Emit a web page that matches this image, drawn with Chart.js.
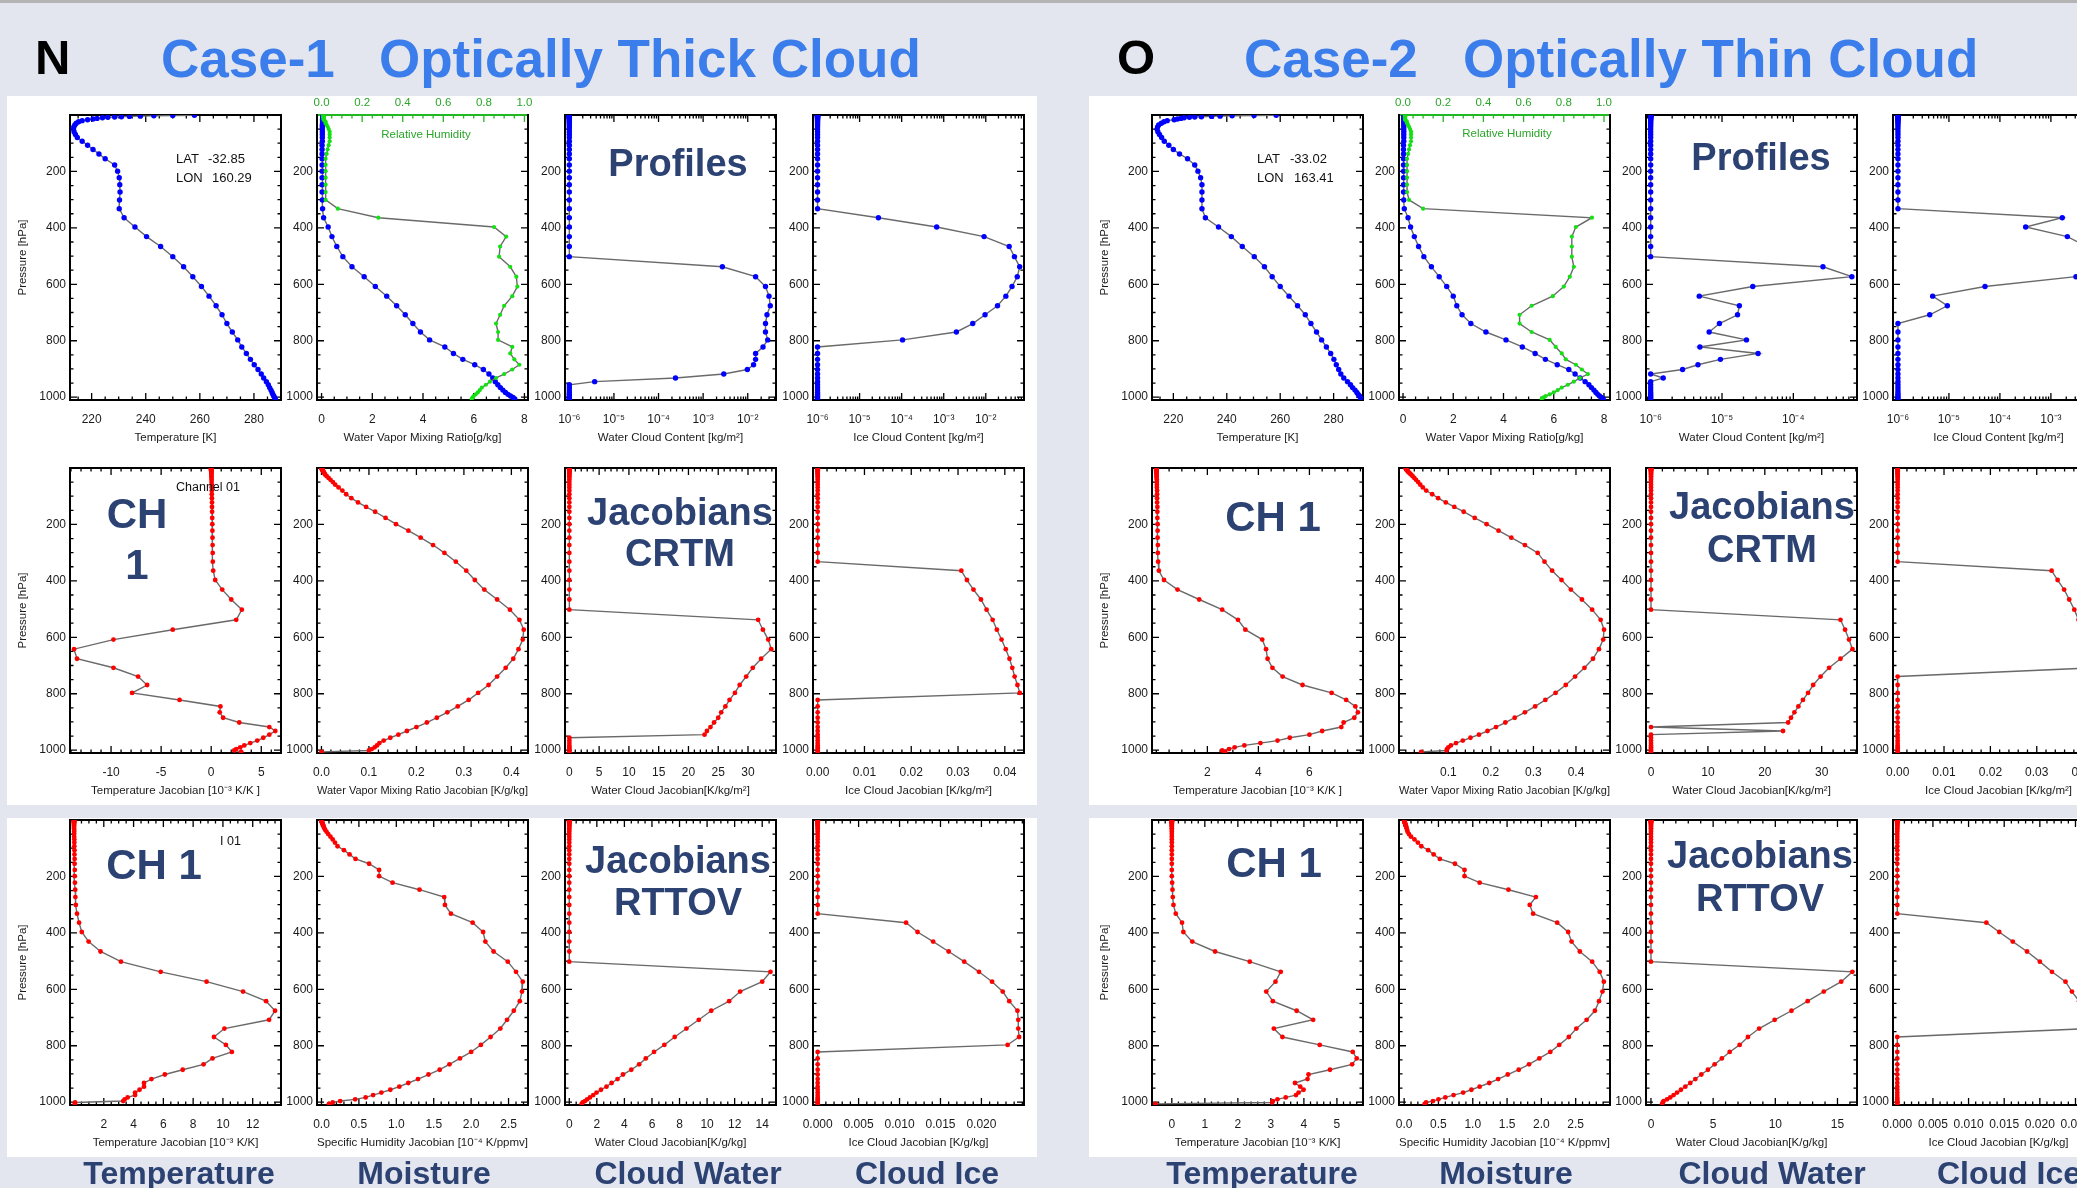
<!DOCTYPE html>
<html>
<head>
<meta charset="utf-8">
<title>Case-1 / Case-2 cloud profiles and Jacobians</title>
<script src="https://cdn.jsdelivr.net/npm/chart.js@4.4.1/dist/chart.umd.min.js"></script>
<style>
  html, body { margin: 0; padding: 0; }
  body { position: relative; width: 2077px; height: 1188px; overflow: hidden; background: #e3e6ef;
         font-family: "Liberation Sans", Arial, Helvetica, sans-serif; }
  .bar { position: absolute; left: 0; top: 0; width: 2077px; height: 3px; background: #b4b4b4; }
  .panel { position: absolute; background: #fff; }
  canvas { position: absolute; }
  .txt { position: absolute; line-height: 1; white-space: pre; }
  .head { font-weight: bold; color: #3a7deb; font-size: 53px; }
  .letter { font-weight: bold; color: #000; font-size: 49px; }
  .big { font-weight: bold; color: #2c4272; transform: translate(-50%, -50%); }
  .foot { font-weight: bold; color: #2c4272; font-size: 32px; transform: translateX(-50%); top: 1157px; }
  .small { font-size: 13px; color: #111; }
  .rh { font-size: 11.5px; color: #2aa62a; transform: translateX(-50%); }
</style>
</head>
<body>
<div class="bar"></div>
<div class="panel" style="left:7px;top:96px;width:1030px;height:709px"></div>
<div class="panel" style="left:7px;top:818px;width:1030px;height:339px"></div>
<div class="panel" style="left:1089px;top:96px;width:988px;height:709px"></div>
<div class="panel" style="left:1089px;top:818px;width:988px;height:339px"></div>
<div id="plots"></div>

<div class="txt letter" style="left:35px;top:33px">N</div>
<div class="txt head" style="left:161px;top:32px">Case-1</div>
<div class="txt head" style="left:379px;top:32px">Optically Thick Cloud</div>
<div class="txt letter" style="left:1117px;top:33px">O</div>
<div class="txt head" style="left:1244px;top:32px">Case-2</div>
<div class="txt head" style="left:1463px;top:32px">Optically Thin Cloud</div>

<div class="txt small" style="left:176px;top:152px">LAT</div>
<div class="txt small" style="left:208px;top:152px">-32.85</div>
<div class="txt small" style="left:176px;top:171px">LON</div>
<div class="txt small" style="left:212px;top:171px">160.29</div>
<div class="txt small" style="left:1257px;top:152px">LAT</div>
<div class="txt small" style="left:1290px;top:152px">-33.02</div>
<div class="txt small" style="left:1257px;top:171px">LON</div>
<div class="txt small" style="left:1294px;top:171px">163.41</div>
<div class="txt small" style="left:176px;top:481px;font-size:12.5px">Channel 01</div>
<div class="txt small" style="left:220px;top:835px;font-size:12.5px">I 01</div>
<div class="txt rh" style="left:426px;top:129px">Relative Humidity</div>
<div class="txt rh" style="left:1507px;top:128px">Relative Humidity</div>

<div class="txt big" style="left:678px;top:163px;font-size:38px">Profiles</div>
<div class="txt big" style="left:137px;top:514px;font-size:42px">CH</div>
<div class="txt big" style="left:137px;top:565px;font-size:42px">1</div>
<div class="txt big" style="left:680px;top:512px;font-size:38px">Jacobians</div>
<div class="txt big" style="left:680px;top:553px;font-size:38px">CRTM</div>
<div class="txt big" style="left:154px;top:865px;font-size:42px">CH 1</div>
<div class="txt big" style="left:678px;top:860px;font-size:38px">Jacobians</div>
<div class="txt big" style="left:678px;top:902px;font-size:38px">RTTOV</div>
<div class="txt big" style="left:1761px;top:157px;font-size:38px">Profiles</div>
<div class="txt big" style="left:1273px;top:517px;font-size:42px">CH 1</div>
<div class="txt big" style="left:1762px;top:506px;font-size:38px">Jacobians</div>
<div class="txt big" style="left:1762px;top:549px;font-size:38px">CRTM</div>
<div class="txt big" style="left:1274px;top:863px;font-size:42px">CH 1</div>
<div class="txt big" style="left:1760px;top:855px;font-size:38px">Jacobians</div>
<div class="txt big" style="left:1760px;top:898px;font-size:38px">RTTOV</div>

<div class="txt foot" style="left:179px">Temperature</div>
<div class="txt foot" style="left:424px">Moisture</div>
<div class="txt foot" style="left:688px">Cloud Water</div>
<div class="txt foot" style="left:927px">Cloud Ice</div>
<div class="txt foot" style="left:1262px">Temperature</div>
<div class="txt foot" style="left:1506px">Moisture</div>
<div class="txt foot" style="left:1772px">Cloud Water</div>
<div class="txt foot" style="left:2009px">Cloud Ice</div>

<script>
// pressure levels [hPa], shared by every profile
const P = [
  1, 2, 3, 4, 5, 6, 7, 8, 10, 12,
  14, 17, 20, 24, 29, 35, 42, 50, 59, 69,
  80, 93, 107, 122, 138, 155, 177, 199, 222, 247,
  273, 301, 332, 364, 397, 431, 466, 502, 538, 573,
  608, 642, 676, 708, 739, 769, 797, 822, 845, 866,
  885, 902, 918, 932, 945, 956, 966, 975, 983, 990,
  996, 1001, 1006];

// ---- Case-1 (optically thick) profiles ----
const tempK1 = [
  258, 250, 243, 238, 234, 231, 228.5, 226, 224, 222,
  220.5, 218.5, 216.5, 215.2, 214.3, 213.8, 213.4, 213.3, 213.5, 214,
  214.7, 216.5, 218.5, 220.5, 222.7, 225, 228.5, 229.6, 230.2, 230.4,
  230.5, 230.3, 230.2, 232, 236, 240.3, 245.5, 250, 254, 257.4,
  260.6, 263.4, 266, 268.2, 270, 272, 274, 275.5, 277.2, 278.7,
  280.1, 281.5, 282.7, 283.6, 284.6, 285.3, 285.8, 286.3, 286.7, 287,
  287.3, 287.6, 287.9];
const wvmr1 = [
  0.06, 0.06, 0.06, 0.06, 0.05, 0.05, 0.05, 0.05, 0.05, 0.05,
  0.04, 0.04, 0.04, 0.04, 0.04, 0.03, 0.03, 0.03, 0.03, 0.03,
  0.03, 0.03, 0.02, 0.02, 0.02, 0.02, 0.02, 0.02, 0.02, 0.02,
  0.02, 0.03, 0.04, 0.08, 0.26, 0.41, 0.6, 0.84, 1.2, 1.68,
  2.12, 2.57, 2.96, 3.3, 3.6, 3.9, 4.26, 4.86, 5.2, 5.57,
  6.04, 6.38, 6.6, 6.75, 6.85, 6.95, 7.05, 7.15, 7.25, 7.35,
  7.45, 7.55, 7.62];
const rh1 = [
  0.01, 0.01, 0.01, 0.01, 0.01, 0.01, 0.01, 0.01, 0.01, 0.01,
  0.01, 0.01, 0.015, 0.02, 0.02, 0.025, 0.03, 0.035, 0.04, 0.04,
  0.04, 0.04, 0.035, 0.03, 0.025, 0.02, 0.02, 0.02, 0.02, 0.02,
  0.02, 0.02, 0.08, 0.28, 0.85, 0.91, 0.88, 0.875, 0.93, 0.96,
  0.965, 0.94, 0.9, 0.88, 0.86, 0.87, 0.87, 0.94, 0.93, 0.95,
  0.975, 0.94, 0.9, 0.86, 0.83, 0.81, 0.79, 0.78, 0.77, 0.76,
  0.75, 0.745, 0.74];
const cldWater1 = [
  1e-6, 1e-6, 1e-6, 1e-6, 1e-6, 1e-6, 1e-6, 1e-6, 1e-6, 1e-6,
  1e-6, 1e-6, 1e-6, 1e-6, 1e-6, 1e-6, 1e-6, 1e-6, 1e-6, 1e-6,
  1e-6, 1e-6, 1e-6, 1e-6, 1e-6, 1e-6, 1e-6, 1e-6, 1e-6, 1e-6,
  1e-6, 1e-6, 1e-6, 1e-6, 1e-6, 1e-6, 1e-6, 1e-6, 2.7e-3, 1.5e-2,
  2.5e-2, 3.0e-2, 3.2e-2, 2.7e-2, 2.5e-2, 2.5e-2, 2.8e-2, 2.2e-2, 1.5e-2, 1.5e-2,
  1.35e-2, 9.8e-3, 2.9e-3, 2.4e-4, 3.7e-6, 1e-6, 1e-6, 1e-6, 1e-6, 1e-6,
  1e-6, 1e-6, 1e-6];
const cldIce1 = [
  1e-6, 1e-6, 1e-6, 1e-6, 1e-6, 1e-6, 1e-6, 1e-6, 1e-6, 1e-6,
  1e-6, 1e-6, 1e-6, 1e-6, 1e-6, 1e-6, 1e-6, 1e-6, 1e-6, 1e-6,
  1e-6, 1e-6, 1e-6, 1e-6, 1e-6, 1e-6, 1e-6, 1e-6, 1e-6, 1e-6,
  1e-6, 1e-6, 1e-6, 2.8e-5, 6.8e-4, 9.1e-3, 0.036, 0.048, 0.064, 0.056,
  0.042, 0.030, 0.019, 9.6e-3, 4.9e-3, 2.0e-3, 1.05e-4, 1e-6, 1e-6, 1e-6,
  1e-6, 1e-6, 1e-6, 1e-6, 1e-6, 1e-6, 1e-6, 1e-6, 1e-6, 1e-6,
  1e-6, 1e-6, 1e-6];

// ---- Case-1 CRTM jacobians ----
const jacT_crtm1 = [
  0, 0, 0, 0, 0, 0, 0, 0, 0, 0.01,
  0.01, 0.01, 0.02, 0.02, 0.03, 0.03, 0.04, 0.04, 0.05, 0.05,
  0.06, 0.06, 0.07, 0.08, 0.08, 0.09, 0.1, 0.11, 0.12, 0.13,
  0.14, 0.15, 0.16, 0.2, 0.4, 1.1, 2.0, 3.06, 2.5, -3.84,
  -9.76, -13.7, -13.4, -9.76, -7.3, -6.4, -7.9, -3.16, 0.92, 0.85,
  1.19, 2.8, 5.8, 6.4, 5.8, 5.2, 4.6, 3.9, 3.3, 2.9,
  2.5, 2.3, 3.0];
const jacWV_crtm1 = [
  0, 0.0003, 0.0006, 0.001, 0.0013, 0.0017, 0.002, 0.0024, 0.003, 0.0038,
  0.0045, 0.0055, 0.0066, 0.008, 0.011, 0.015, 0.019, 0.024, 0.029, 0.036,
  0.044, 0.052, 0.063, 0.077, 0.094, 0.113, 0.135, 0.157, 0.183, 0.209,
  0.235, 0.259, 0.283, 0.305, 0.323, 0.343, 0.37, 0.397, 0.417, 0.426,
  0.424, 0.415, 0.404, 0.388, 0.37, 0.352, 0.33, 0.31, 0.287, 0.265,
  0.243, 0.222, 0.2, 0.18, 0.162, 0.145, 0.131, 0.122, 0.117, 0.112,
  0.106, 0.1, 0.0];
const jacCW_crtm1 = [
  0, 0, 0, 0, 0, 0, 0, 0, 0, 0,
  0, 0, 0, 0, 0, 0, 0, 0, 0, 0,
  0, 0, 0, 0, 0, 0, 0, 0, 0, 0,
  0, 0, 0, 0, 0, 0, 0, 0, 31.7, 32.5,
  33.4, 33.9, 32.2, 30.8, 29.7, 28.6, 27.8, 26.9, 26.2, 25.5,
  25.0, 24.3, 23.7, 23.1, 22.7, 0, 0, 0, 0, 0,
  0, 0, 0];
const jacCI_crtm1 = [
  0, 0, 0, 0, 0, 0, 0, 0, 0, 0,
  0, 0, 0, 0, 0, 0, 0, 0, 0, 0,
  0, 0, 0, 0, 0, 0, 0, 0, 0, 0,
  0, 0, 0, 0.0307, 0.0319, 0.0333, 0.0349, 0.0361, 0.0374, 0.0383,
  0.0393, 0.0402, 0.041, 0.0416, 0.0421, 0.0427, 0.0432, 0, 0, 0,
  0, 0, 0, 0, 0, 0, 0, 0, 0, 0,
  0, 0, 0];

// ---- Case-1 RTTOV jacobians ----
const jacT_rttov1 = [
  0, 0, 0, 0, 0, 0, 0, 0, 0, 0,
  0, 0, 0, 0, 0, 0.01, 0.01, 0.01, 0.01, 0.02,
  0.02, 0.02, 0.03, 0.03, 0.04, 0.04, 0.05, 0.05, 0.06, 0.08,
  0.09, 0.12, 0.2, 0.34, 0.52, 0.98, 1.78, 3.15, 5.82, 8.9,
  11.35, 12.9, 13.5, 13.1, 10.1, 9.4, 10.2, 10.6, 9.3, 8.7,
  7.3, 6.1, 5.2, 4.7, 4.7, 4.4, 4.1, 4.1, 3.6, 3.4,
  3.3, 0.07, 0.05];
const jacQ_rttov1 = [
  0, 0.0005, 0.001, 0.002, 0.003, 0.004, 0.005, 0.007, 0.009, 0.012,
  0.016, 0.02, 0.025, 0.03, 0.038, 0.05, 0.068, 0.09, 0.12, 0.15,
  0.18, 0.214, 0.3, 0.375, 0.455, 0.636, 0.77, 0.77, 0.95, 1.31,
  1.64, 1.65, 1.73, 2.02, 2.16, 2.19, 2.3, 2.49, 2.6, 2.69,
  2.68, 2.65, 2.57, 2.48, 2.39, 2.26, 2.13, 2.0, 1.85, 1.71,
  1.58, 1.43, 1.29, 1.16, 1.04, 0.92, 0.8, 0.69, 0.59, 0.45,
  0.25, 0.15, 0.1];
const jacCW_rttov1 = [
  0, 0, 0, 0, 0, 0, 0, 0, 0, 0,
  0, 0, 0, 0, 0, 0, 0, 0, 0, 0,
  0, 0, 0, 0, 0, 0, 0, 0, 0, 0,
  0, 0, 0, 0, 0, 0, 0, 0, 14.6, 14.0,
  12.4, 11.6, 10.3, 9.4, 8.5, 7.65, 6.9, 6.15, 5.55, 5.07,
  4.5, 3.9, 3.5, 3.07, 2.7, 2.3, 1.98, 1.74, 1.5, 1.3,
  1.14, 0.97, 0.9];
const jacCI_rttov1 = [
  0, 0, 0, 0, 0, 0, 0, 0, 0, 0,
  0, 0, 0, 0, 0, 0, 0, 0, 0, 0,
  0, 0, 0, 0, 0, 0, 0, 0, 0, 0,
  0, 0, 0, 0.0108, 0.0122, 0.0141, 0.016, 0.0179, 0.0197, 0.0213,
  0.0226, 0.0234, 0.0244, 0.0245, 0.0245, 0.0246, 0.0232, 0, 0, 0,
  0, 0, 0, 0, 0, 0, 0, 0, 0, 0,
  0, 0, 0];

// ---- Case-2 (optically thin) profiles ----
const tempK2 = [
  258.5, 250.2, 242, 237.5, 234.3, 230.5, 228, 226, 224, 222.8,
  221.5, 220.3, 217.7, 216.5, 215.5, 214.5, 214.1, 213.9, 214.2, 214.8,
  215.6, 216.6, 218.3, 220, 222.3, 225.3, 228, 229.2, 230.2, 230.7,
  230.7, 230.7, 230.7, 232, 236.9, 241.7, 245.8, 250.3, 254.1, 257,
  260, 263.3, 266.5, 269.4, 271.5, 273.6, 275.5, 277.3, 278.9, 280.1,
  281, 281.9, 282.7, 283.8, 285.2, 286.3, 287.1, 288, 288.7, 289.2,
  289.7, 290, 290.3];
const wvmr2 = [
  0.05, 0.05, 0.05, 0.05, 0.05, 0.05, 0.05, 0.04, 0.04, 0.04,
  0.04, 0.04, 0.04, 0.03, 0.03, 0.03, 0.03, 0.03, 0.03, 0.03,
  0.03, 0.03, 0.02, 0.02, 0.02, 0.02, 0.02, 0.02, 0.02, 0.02,
  0.02, 0.03, 0.05, 0.2, 0.3, 0.45, 0.62, 0.83, 1.13, 1.44,
  1.74, 2.0, 2.14, 2.35, 2.7, 3.3, 4.1, 4.75, 5.26, 5.67,
  6.14, 6.6, 6.85, 7.05, 7.25, 7.4, 7.5, 7.6, 7.68, 7.75,
  7.82, 7.9, 7.97];
const rh2 = [
  0.01, 0.01, 0.01, 0.01, 0.01, 0.01, 0.01, 0.01, 0.01, 0.01,
  0.01, 0.01, 0.015, 0.02, 0.02, 0.025, 0.03, 0.035, 0.04, 0.04,
  0.04, 0.04, 0.035, 0.03, 0.025, 0.02, 0.02, 0.02, 0.02, 0.02,
  0.02, 0.03, 0.1, 0.94, 0.86, 0.84, 0.84, 0.84, 0.85, 0.83,
  0.8, 0.745, 0.64, 0.58, 0.58, 0.64, 0.73, 0.76, 0.79, 0.81,
  0.86, 0.89, 0.92, 0.88, 0.85, 0.82, 0.79, 0.77, 0.75, 0.73,
  0.71, 0.7, 0.69];
const cldWater2 = [
  1e-6, 1e-6, 1e-6, 1e-6, 1e-6, 1e-6, 1e-6, 1e-6, 1e-6, 1e-6,
  1e-6, 1e-6, 1e-6, 1e-6, 1e-6, 1e-6, 1e-6, 1e-6, 1e-6, 1e-6,
  1e-6, 1e-6, 1e-6, 1e-6, 1e-6, 1e-6, 1e-6, 1e-6, 1e-6, 1e-6,
  1e-6, 1e-6, 1e-6, 1e-6, 1e-6, 1e-6, 1e-6, 1e-6, 2.6e-4, 6.6e-4,
  2.7e-5, 4.8e-6, 1.75e-5, 1.65e-5, 9.2e-6, 6.6e-6, 2.2e-5, 4.9e-6, 3.2e-5, 9.5e-6,
  4.6e-6, 2.8e-6, 1e-6, 1.5e-6, 1e-6, 1e-6, 1e-6, 1e-6, 1e-6, 1e-6,
  1e-6, 1e-6, 1e-6];
const cldIce2 = [
  1e-6, 1e-6, 1e-6, 1e-6, 1e-6, 1e-6, 1e-6, 1e-6, 1e-6, 1e-6,
  1e-6, 1e-6, 1e-6, 1e-6, 1e-6, 1e-6, 1e-6, 1e-6, 1e-6, 1e-6,
  1e-6, 1e-6, 1e-6, 1e-6, 1e-6, 1e-6, 1e-6, 1e-6, 1e-6, 1e-6,
  1e-6, 1e-6, 1e-6, 1.67e-3, 3.2e-4, 2.1e-3, 5e-3, 8e-3, 7e-3, 3.1e-3,
  5.1e-5, 4.8e-6, 9.3e-6, 4.2e-6, 1e-6, 1e-6, 1e-6, 1e-6, 1e-6, 1e-6,
  1e-6, 1e-6, 1e-6, 1e-6, 1e-6, 1e-6, 1e-6, 1e-6, 1e-6, 1e-6,
  1e-6, 1e-6, 1e-6];

// ---- Case-2 CRTM jacobians ----
const jacT_crtm2 = [
  0, 0, 0, 0, 0, 0, 0, 0, 0, 0,
  0, 0, 0.01, 0.01, 0.01, 0.01, 0.02, 0.02, 0.02, 0.02,
  0.03, 0.03, 0.03, 0.03, 0.04, 0.04, 0.04, 0.05, 0.05, 0.05,
  0.06, 0.06, 0.07, 0.1, 0.3, 0.83, 1.68, 2.58, 3.2, 3.49,
  4.15, 4.3, 4.36, 4.55, 4.95, 5.73, 6.87, 7.44, 7.8, 7.9,
  7.76, 7.34, 7.25, 6.5, 6.0, 5.23, 4.75, 4.08, 3.45, 3.07,
  2.85, 2.58, 2.7];
const jacWV_crtm2 = [
  0, 0, 0.0005, 0.001, 0.0015, 0.002, 0.0025, 0.003, 0.004, 0.005,
  0.006, 0.008, 0.01, 0.013, 0.016, 0.02, 0.024, 0.029, 0.034, 0.04,
  0.048, 0.062, 0.076, 0.094, 0.114, 0.136, 0.162, 0.19, 0.218, 0.248,
  0.28, 0.31, 0.326, 0.344, 0.366, 0.388, 0.414, 0.438, 0.458, 0.466,
  0.464, 0.454, 0.44, 0.42, 0.398, 0.376, 0.352, 0.328, 0.304, 0.28,
  0.256, 0.234, 0.212, 0.192, 0.172, 0.152, 0.134, 0.118, 0.106, 0.1,
  0.097, 0.096, 0.036];
const jacCW_crtm2 = [
  0, 0, 0, 0, 0, 0, 0, 0, 0, 0,
  0, 0, 0, 0, 0, 0, 0, 0, 0, 0,
  0, 0, 0, 0, 0, 0, 0, 0, 0, 0,
  0, 0, 0, 0, 0, 0, 0, 0, 33.3, 34.1,
  34.8, 35.4, 33.3, 31.3, 29.8, 28.5, 27.6, 26.7, 25.9, 25.2,
  24.6, 24.1, 0, 23.2, 0, 0, 0, 0, 0, 0,
  0, 0, 0];
const jacCI_crtm2 = [
  0, 0, 0, 0, 0, 0, 0, 0, 0, 0,
  0, 0, 0, 0, 0, 0, 0, 0, 0, 0,
  0, 0, 0, 0, 0, 0, 0, 0, 0, 0,
  0, 0, 0, 0.0332, 0.0345, 0.0359, 0.037, 0.0381, 0.039, 0.0398,
  0.0405, 0.0412, 0.0418, 0.0424, 0, 0, 0, 0, 0, 0,
  0, 0, 0, 0, 0, 0, 0, 0, 0, 0,
  0, 0, 0];

// ---- Case-2 RTTOV jacobians ----
const jacT_rttov2 = [
  0, 0, 0, 0, 0, 0, 0, 0, 0, 0,
  0, 0, 0, 0, 0, 0, 0, 0, 0, 0,
  0, 0, 0, 0, 0, 0, 0, 0, 0.01, 0.02,
  0.03, 0.05, 0.12, 0.31, 0.35, 0.62, 1.31, 2.36, 3.3, 3.14,
  2.86, 3.06, 3.78, 4.28, 3.09, 3.35, 4.48, 5.48, 5.6, 5.46,
  4.79, 4.14, 4.11, 3.73, 3.89, 3.99, 3.84, 3.76, 3.45, 3.2,
  3.06, 3.04, -0.5];
const jacQ_rttov2 = [
  0, 0.001, 0.002, 0.003, 0.004, 0.005, 0.006, 0.008, 0.01, 0.013,
  0.016, 0.02, 0.025, 0.03, 0.036, 0.043, 0.05, 0.07, 0.1, 0.15,
  0.2, 0.25, 0.35, 0.43, 0.52, 0.74, 0.88, 0.88, 1.1, 1.52,
  1.92, 1.83, 1.88, 2.23, 2.39, 2.44, 2.56, 2.74, 2.85, 2.91,
  2.89, 2.84, 2.78, 2.66, 2.51, 2.4, 2.26, 2.13, 1.97, 1.82,
  1.67, 1.51, 1.37, 1.24, 1.1, 0.98, 0.86, 0.72, 0.6, 0.5,
  0.42, 0.32, 0.3];
const jacCW_rttov2 = [
  0, 0, 0, 0, 0, 0, 0, 0, 0, 0,
  0, 0, 0, 0, 0, 0, 0, 0, 0, 0,
  0, 0, 0, 0, 0, 0, 0, 0, 0, 0,
  0, 0, 0, 0, 0, 0, 0, 0, 16.2, 15.3,
  13.9, 12.6, 11.3, 9.95, 8.7, 7.8, 7.13, 6.33, 5.7, 5.12,
  4.58, 4.05, 3.57, 3.16, 2.76, 2.41, 2.1, 1.82, 1.55, 1.29,
  1.02, 0.95, 0.9];
const jacCI_rttov2 = [
  0, 0, 0, 0, 0, 0, 0, 0, 0, 0,
  0, 0, 0, 0, 0, 0, 0, 0, 0, 0,
  0, 0, 0, 0, 0, 0, 0, 0, 0, 0,
  0, 0, 0, 0.0125, 0.0143, 0.0162, 0.0182, 0.02, 0.0217, 0.0236,
  0.0245, 0.0255, 0.026, 0.0265, 0.027, 0, 0, 0, 0, 0,
  0, 0, 0, 0, 0, 0, 0, 0, 0, 0,
  0, 0, 0];

// tick labels
const Y_TICKS = [200, 400, 600, 800, 1000];
const X_TEMP = [220, 240, 260, 280];
const X_WV = [0, 2, 4, 6, 8];
const X_RH = [0, 0.2, 0.4, 0.6, 0.8, 1.0];
const X_LOG = [1e-6, 1e-5, 1e-4, 1e-3, 1e-2];
const X_LOG_SHORT = [1e-6, 1e-5, 1e-4];

const FONT = '"Liberation Sans", Arial, Helvetica, sans-serif';
const BOX_W = 211, BOX_H = 285;
const COL_LEFT = [[70, 317, 565, 813], [1152, 1399, 1646, 1893]];
const ROW_TOP = [115, 468, 820];
const BLUE = '#0000ff', RED = '#ff0000', GREEN = '#14e014', LINE = '#6a6a6a';
const GREEN_AXIS = '#22b822', GREEN_TEXT = '#2aa62a';

const SUP = {'-': '\u207b', '0': '\u2070', '1': '\u00b9', '2': '\u00b2', '3': '\u00b3',
             '4': '\u2074', '5': '\u2075', '6': '\u2076', '7': '\u2077', '8': '\u2078', '9': '\u2079'};
function pow10Label(v) {
  const e = Math.round(Math.log10(v));
  return '10' + String(e).split('').map(ch => SUP[ch]).join('');
}

// tick positions for the IDL style inward ticks, [value, isMajor]
function tickSet(min, max, step, majors, log) {
  const out = [];
  if (log) {
    for (let e = Math.floor(Math.log10(min)); e <= Math.ceil(Math.log10(max)); e++) {
      for (let m = 1; m <= 9; m++) {
        const v = m * Math.pow(10, e);
        if (v >= min && v <= max) out.push([v, m === 1]);
      }
    }
    return out;
  }
  const n0 = Math.ceil(min / step - 1e-9), n1 = Math.floor(max / step + 1e-9);
  for (let n = n0; n <= n1; n++) {
    const v = n * step;
    out.push([v, majors.some(mj => Math.abs(mj - v) < step / 10)]);
  }
  return out;
}

const idlFrame = {
  id: 'idlFrame',
  beforeDatasetsDraw(chart, args, o) {
    const {ctx, chartArea: a, scales} = chart;
    ctx.save();
    ctx.lineWidth = 1.3;
    ctx.strokeStyle = '#000';
    ctx.beginPath();
    const xs = scales.x;
    tickSet(xs.min, xs.max, o.minor, o.major, o.log).forEach(([v, maj]) => {
      const px = xs.getPixelForValue(v), len = maj ? 7 : 3.5;
      if (px <= a.left + 1 || px >= a.right - 1) return;
      ctx.moveTo(px, a.bottom); ctx.lineTo(px, a.bottom - len);
      if (!o.rh) { ctx.moveTo(px, a.top); ctx.lineTo(px, a.top + len); }
    });
    const ys = scales.y;
    tickSet(0, 1010, 50, Y_TICKS, false).forEach(([v, maj]) => {
      const py = ys.getPixelForValue(v), len = maj ? 7 : 3.5;
      if (py <= a.top + 1 || py >= a.bottom - 1) return;
      ctx.moveTo(a.left, py); ctx.lineTo(a.left + len, py);
      ctx.moveTo(a.right, py); ctx.lineTo(a.right - len, py);
    });
    ctx.stroke();
    ctx.lineWidth = 2;
    ctx.strokeRect(a.left, a.top, a.right - a.left, a.bottom - a.top);
    if (o.rh) {
      const x2 = scales.x2;
      ctx.strokeStyle = GREEN_AXIS;
      ctx.lineWidth = 1.3;
      ctx.beginPath();
      tickSet(x2.min, x2.max, 0.05, X_RH, false).forEach(([v, maj]) => {
        const px = x2.getPixelForValue(v), len = maj ? 7 : 3.5;
        if (px <= a.left + 1 || px >= a.right - 1) return;
        ctx.moveTo(px, a.top); ctx.lineTo(px, a.top + len);
      });
      ctx.stroke();
      ctx.lineWidth = 2;
      ctx.beginPath();
      ctx.moveTo(a.left + 1, a.top); ctx.lineTo(a.right - 1, a.top);
      ctx.stroke();
    }
    ctx.restore();
  }
};

function makeChart(k) {
  const padL = k.c === 0 ? 68 : 46, padT = 24, padR = 24, padB = 50;
  const left = COL_LEFT[k.side][k.c], top = ROW_TOP[k.r];
  const cv = document.createElement('canvas');
  cv.width = BOX_W + padL + padR;
  cv.height = BOX_H + padT + padB;
  cv.style.left = (left - padL) + 'px';
  cv.style.top = (top - padT) + 'px';
  document.getElementById('plots').appendChild(cv);

  const datasets = k.s.map(([vals, color, axis]) => ({
    data: vals.map((v, i) => ({x: v, y: P[i]})),
    xAxisID: axis || 'x',
    showLine: true,
    borderColor: LINE,
    borderWidth: 1.4,
    pointRadius: color === BLUE ? 2.7 : (color === RED ? 2.4 : 2.1),
    pointBackgroundColor: color,
    pointBorderColor: color,
    pointBorderWidth: 0
  }));

  const tickFont = {size: 12, family: FONT};
  const scales = {
    x: {
      type: k.log ? 'logarithmic' : 'linear', position: 'bottom', min: k.min, max: k.max, bounds: 'data',
      grid: {display: false, drawTicks: false}, border: {display: false},
      afterBuildTicks: sc => { sc.ticks = k.tk.map(v => ({value: v})); },
      afterFit: sc => { sc.height = padB; },
      ticks: {autoSkip: false, maxRotation: 0, padding: 12, color: '#1a1a1a', font: tickFont,
              callback: v => k.log ? pow10Label(v) : Number(v).toFixed(k.dec)},
      title: {display: true, text: k.t, color: '#1a1a1a', font: {size: 11.5, family: FONT},
              padding: {top: 0, bottom: 5}}
    },
    y: {
      type: 'linear', position: 'left', reverse: true, min: 0, max: 1010, bounds: 'data',
      grid: {display: false, drawTicks: false}, border: {display: false},
      afterBuildTicks: sc => { sc.ticks = Y_TICKS.map(v => ({value: v})); },
      afterFit: sc => { sc.width = padL; },
      ticks: {autoSkip: false, padding: 4, color: '#1a1a1a', font: tickFont, callback: v => String(v)},
      title: {display: k.c === 0, text: 'Pressure [hPa]', color: '#1a1a1a',
              font: {size: 11.5, family: FONT}, padding: {top: 14, bottom: 0}}
    }
  };
  if (k.rh) {
    scales.x2 = {
      type: 'linear', position: 'top', min: k.min / 8, max: k.max / 8, bounds: 'data',
      grid: {display: false, drawTicks: false}, border: {display: false},
      afterBuildTicks: sc => { sc.ticks = X_RH.map(v => ({value: v})); },
      afterFit: sc => { sc.height = padT; },
      ticks: {autoSkip: false, maxRotation: 0, padding: 5, color: GREEN_TEXT, font: {size: 11.5, family: FONT},
              callback: v => Number(v).toFixed(1)}
    };
  }

  new Chart(cv, {
    type: 'scatter',
    data: {datasets},
    options: {
      responsive: false, animation: false, devicePixelRatio: 1, events: [],
      layout: {padding: {left: 0, right: padR, top: k.rh ? 0 : padT, bottom: 0}},
      plugins: {legend: {display: false}, tooltip: {enabled: false},
                idlFrame: {minor: k.minor, major: k.tk, log: !!k.log, rh: !!k.rh}},
      scales
    },
    plugins: [idlFrame]
  });
}

const charts = [
  // Case-1 profiles
  {side: 0, r: 0, c: 0, s: [[tempK1, BLUE]], min: 212, max: 290, tk: X_TEMP, dec: 0, minor: 5, t: 'Temperature [K]'},
  {side: 0, r: 0, c: 1, s: [[rh1, GREEN, 'x2'], [wvmr1, BLUE]], rh: true, min: -0.18, max: 8.14, tk: X_WV, dec: 0, minor: 0.5,
   t: 'Water Vapor Mixing Ratio[g/kg]'},
  {side: 0, r: 0, c: 2, s: [[cldWater1, BLUE]], log: true, min: 8e-7, max: 0.043, tk: X_LOG, t: 'Water Cloud Content [kg/m\u00b2]'},
  {side: 0, r: 0, c: 3, s: [[cldIce1, BLUE]], log: true, min: 7.8e-7, max: 0.081, tk: X_LOG, t: 'Ice Cloud Content [kg/m\u00b2]'},
  // Case-1 CRTM
  {side: 0, r: 1, c: 0, s: [[jacT_crtm1, RED]], min: -14.1, max: 6.97, tk: [-10, -5, 0, 5], dec: 0, minor: 1,
   t: 'Temperature Jacobian [10\u207b\u00b3 K/K ]'},
  {side: 0, r: 1, c: 1, s: [[jacWV_crtm1, RED]], min: -0.0094, max: 0.435, tk: [0, 0.1, 0.2, 0.3, 0.4], dec: 1, minor: 0.02,
   t: 'Water Vapor Mixing Ratio Jacobian [K/g/kg]'},
  {side: 0, r: 1, c: 2, s: [[jacCW_crtm1, RED]], min: -0.73, max: 34.7, tk: [0, 5, 10, 15, 20, 25, 30], dec: 0, minor: 1,
   t: 'Water Cloud Jacobian[K/kg/m\u00b2]'},
  {side: 0, r: 1, c: 3, s: [[jacCI_crtm1, RED]], min: -0.001, max: 0.0441, tk: [0, 0.01, 0.02, 0.03, 0.04], dec: 2, minor: 0.002,
   t: 'Ice Cloud Jacobian [K/kg/m\u00b2]'},
  // Case-1 RTTOV
  {side: 0, r: 2, c: 0, s: [[jacT_rttov1, RED]], min: -0.27, max: 13.9, tk: [2, 4, 6, 8, 10, 12], dec: 0, minor: 0.5,
   t: 'Temperature Jacobian [10\u207b\u00b3 K/K]'},
  {side: 0, r: 2, c: 1, s: [[jacQ_rttov1, RED]], min: -0.06, max: 2.76, tk: [0, 0.5, 1, 1.5, 2, 2.5], dec: 1, minor: 0.1,
   t: 'Specific Humidity Jacobian [10\u207b\u2074 K/ppmv]'},
  {side: 0, r: 2, c: 2, s: [[jacCW_rttov1, RED]], min: -0.31, max: 15.0, tk: [0, 2, 4, 6, 8, 10, 12, 14], dec: 0, minor: 0.5,
   t: 'Water Cloud Jacobian[K/g/kg]'},
  {side: 0, r: 2, c: 3, s: [[jacCI_rttov1, RED]], min: -0.00057, max: 0.0252, tk: [0, 0.005, 0.01, 0.015, 0.02], dec: 3, minor: 0.001,
   t: 'Ice Cloud Jacobian [K/g/kg]'},
  // Case-2 profiles
  {side: 1, r: 0, c: 0, s: [[tempK2, BLUE]], min: 212, max: 291, tk: X_TEMP, dec: 0, minor: 5, t: 'Temperature [K]'},
  {side: 1, r: 0, c: 1, s: [[rh2, GREEN, 'x2'], [wvmr2, BLUE]], rh: true, min: -0.16, max: 8.24, tk: X_WV, dec: 0, minor: 0.5,
   t: 'Water Vapor Mixing Ratio[g/kg]'},
  {side: 1, r: 0, c: 2, s: [[cldWater2, BLUE]], log: true, min: 8.6e-7, max: 7.8e-4, tk: X_LOG_SHORT, t: 'Water Cloud Content [kg/m\u00b2]'},
  {side: 1, r: 0, c: 3, s: [[cldIce2, BLUE]], log: true, min: 8e-7, max: 0.011, tk: X_LOG, t: 'Ice Cloud Content [kg/m\u00b2]'},
  // Case-2 CRTM
  {side: 1, r: 1, c: 0, s: [[jacT_crtm2, RED]], min: -0.17, max: 8.1, tk: [2, 4, 6], dec: 0, minor: 0.5,
   t: 'Temperature Jacobian [10\u207b\u00b3 K/K ]'},
  {side: 1, r: 1, c: 1, s: [[jacWV_crtm2, RED]], min: -0.016, max: 0.48, tk: [0.1, 0.2, 0.3, 0.4], dec: 1, minor: 0.02,
   t: 'Water Vapor Mixing Ratio Jacobian [K/g/kg]'},
  {side: 1, r: 1, c: 2, s: [[jacCW_crtm2, RED]], min: -0.88, max: 36.2, tk: [0, 10, 20, 30], dec: 0, minor: 2,
   t: 'Water Cloud Jacobian[K/kg/m\u00b2]'},
  {side: 1, r: 1, c: 3, s: [[jacCI_crtm2, RED]], min: -0.001, max: 0.0445, tk: [0, 0.01, 0.02, 0.03, 0.04], dec: 2, minor: 0.002,
   t: 'Ice Cloud Jacobian [K/kg/m\u00b2]'},
  // Case-2 RTTOV
  {side: 1, r: 2, c: 0, s: [[jacT_rttov2, RED]], min: -0.6, max: 5.79, tk: [0, 1, 2, 3, 4, 5], dec: 0, minor: 0.2,
   t: 'Temperature Jacobian [10\u207b\u00b3 K/K]'},
  {side: 1, r: 2, c: 1, s: [[jacQ_rttov2, RED]], min: -0.075, max: 3.0, tk: [0, 0.5, 1, 1.5, 2, 2.5], dec: 1, minor: 0.1,
   t: 'Specific Humidity Jacobian [10\u207b\u2074 K/ppmv]'},
  {side: 1, r: 2, c: 2, s: [[jacCW_rttov2, RED]], min: -0.4, max: 16.57, tk: [0, 5, 10, 15], dec: 0, minor: 1,
   t: 'Water Cloud Jacobian[K/g/kg]'},
  {side: 1, r: 2, c: 3, s: [[jacCI_rttov2, RED]], min: -0.0006, max: 0.029, tk: [0, 0.005, 0.01, 0.015, 0.02, 0.025], dec: 3, minor: 0.001,
   t: 'Ice Cloud Jacobian [K/g/kg]'}
];

charts.forEach(makeChart);
</script>
</body>
</html>
